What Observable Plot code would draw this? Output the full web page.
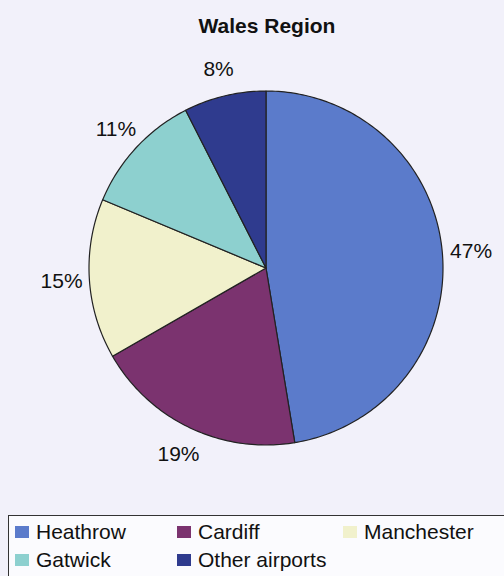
<!DOCTYPE html>
<html>
<head>
<meta charset="utf-8">
<script src="https://cdn.jsdelivr.net/npm/d3@7"></script>
<script src="https://cdn.jsdelivr.net/npm/@observablehq/plot@0.6"></script>
<style>
  html, body { margin: 0; padding: 0; background: #f2f1fa; width: 504px; height: 576px; overflow: hidden; font-family: "Liberation Sans", Arial, sans-serif; }
  #title { height: 36px; padding-top: 14px; padding-left: 30px; box-sizing: content-box; text-align: center; font-weight: bold; font-size: 21px; line-height: 24px; color: #111; }
  #chart { height: 455px; }
  #legend { position: absolute; left: 8px; top: 515px; width: 520px; height: 80px; border: 1px solid #333; box-sizing: border-box; padding: 2px 0 0 6px; background: #fbfbfe; }
  .row { display: flex; height: 28px; align-items: center; }
  .item { display: flex; align-items: center; font-size: 21px; color: #111; }
  .sw { width: 14px; height: 12px; margin-right: 7px; }
</style>
</head>
<body>
<div id="title">Wales Region</div>
<div id="chart"></div>
<div id="legend"></div>
<script>
const categories = ["Heathrow", "Cardiff", "Manchester", "Gatwick", "Other airports"];
const values = [47.4, 19.3, 14.6, 11.2, 7.5];
const labels = ["47%", "19%", "15%", "11%", "8%"];
const colors = ["#5b7bcb", "#7b336f", "#f1f1cc", "#8dd0cf", "#2f3b8e"];

const total = d3.sum(values);
const slices = [];
let acc = 0;
categories.forEach((c, i) => {
  const a0 = acc / total * 2 * Math.PI;
  acc += values[i];
  const a1 = acc / total * 2 * Math.PI;
  slices.push({cat: c, a0, a1, mid: (a0 + a1) / 2, label: labels[i]});
});

const arcPts = [];
for (const s of slices) {
  const n = Math.max(2, Math.ceil((s.a1 - s.a0) / (Math.PI / 180)));
  for (let k = 0; k <= n; k++) {
    const a = s.a0 + (s.a1 - s.a0) * k / n;
    arcPts.push({cat: s.cat, x1: Math.sin(a), y1: Math.cos(a), x2: 0, y2: 0});
  }
}

const lr = 1.16;
const labelPts = slices.map(s => ({text: s.label, x: lr * Math.sin(s.mid), y: lr * Math.cos(s.mid)}));

const plot = Plot.plot({
  width: 504,
  height: 455,
  marginLeft: 89,
  marginRight: 61,
  marginTop: 41,
  marginBottom: 60,
  x: {domain: [-1, 1], axis: null},
  y: {domain: [-1, 1], axis: null},
  color: {domain: categories, range: colors},
  style: {background: "transparent", fontFamily: "Liberation Sans, Arial, sans-serif", overflow: "visible"},
  marks: [
    Plot.area(arcPts, {x1: "x1", y1: "y1", x2: "x2", y2: "y2", z: "cat", fill: "cat", stroke: "#222", strokeWidth: 1.2, strokeLinejoin: "round"}),
    Plot.text(labelPts, {x: "x", y: "y", text: "text", fontSize: 21, fill: "#111"})
  ]
});
document.getElementById("chart").appendChild(plot);

const legend = document.getElementById("legend");
const colWidths = [162, 166, 160];
const rows = [[0, 1, 2], [3, 4]];
for (const r of rows) {
  const row = document.createElement("div");
  row.className = "row";
  r.forEach((i, j) => {
    const item = document.createElement("div");
    item.className = "item";
    item.style.width = colWidths[j] + "px";
    const sw = document.createElement("span");
    sw.className = "sw";
    sw.style.background = colors[i];
    const t = document.createElement("span");
    t.textContent = categories[i];
    item.appendChild(sw);
    item.appendChild(t);
    row.appendChild(item);
  });
  legend.appendChild(row);
}
</script>
</body>
</html>
